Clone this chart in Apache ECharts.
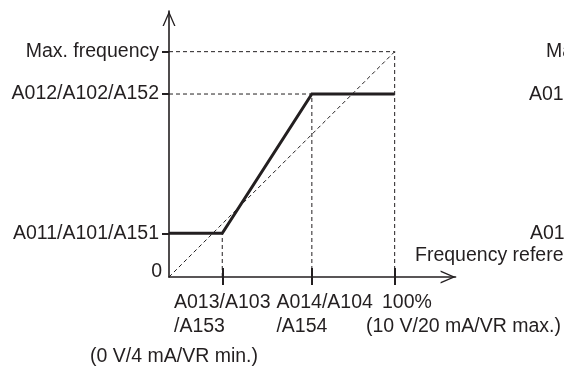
<!DOCTYPE html>
<html><head><meta charset="utf-8">
<script src="https://cdn.jsdelivr.net/npm/echarts@6/dist/echarts.min.js"></script>
<style>html,body{margin:0;padding:0;background:#fff}#c{width:564px;height:367px}</style>
</head><body><div id="c"></div>
<script>
// Frequency reference input (% of range) vs. output frequency (% of max frequency)
const inputPoints  = [0, 23.6, 63.3, 100];
const outputPoints = [19.4, 19.4, 81.2, 81.2];
const yTickValues  = [19.4, 81.2, 100];
const yTickLabels  = ['A011/A101/A151', 'A012/A102/A152', 'Max. frequency'];
const xTickValues  = [23.6, 63.3, 100];
const xTickLine1   = ['A013/A103', 'A014/A104', '100%'];
const xTickLine2   = ['/A153', '/A154', '(10 V/20 mA/VR max.)'];
const xZeroLabel   = '(0 V/4 mA/VR min.)';
const yZeroLabel   = '0';
const axisExtent   = [127, 118];
const sideTexts    = ['Max. frequency', 'A012/A102/A152', 'A011/A101/A151', 'Frequency reference'];

const INK = '#231f20';
const FONT = 'Liberation Sans, Arial, sans-serif';
const FS = 19.5;
const arrowPath = 'path://M65,0 L130,150 L116,150 L65,32 L14,150 L0,150 Z';

const pMin = inputPoints[1], pMax = inputPoints[2], pFull = inputPoints[3];
const fMin = outputPoints[0], fMax = outputPoints[2], fTop = yTickValues[2];
const guides = [
  [[0, fTop], [pFull, fTop]],
  [[0, fMax], [pMax, fMax]],
  [[pFull, 0], [pFull, fTop]],
  [[pMax, 0], [pMax, fMax]],
  [[pMin, 0], [pMin, fMin]],
  [[0, 0], [pFull, fTop]]
];

const txt = (extra) => Object.assign({fontSize: FS, fontFamily: FONT, color: INK}, extra || {});

const series = guides.map(g => ({
  type: 'line', data: g, symbol: 'none', clip: false, silent: true,
  lineStyle: {color: INK, width: 1, type: [4, 3]}, z: 2
}));
series.push({
  type: 'line', data: inputPoints.map((x, i) => [x, outputPoints[i]]),
  symbol: 'none', clip: false, silent: true,
  lineStyle: {color: INK, width: 3, join: 'miter'}, z: 5
});

const sidePos = [[546, 52], [529, 95], [530, 234], [415, 256]];
const graphic = sideTexts.map((t, i) => ({
  type: 'text', x: sidePos[i][0], y: sidePos[i][1], silent: true,
  style: {text: t, fill: INK, font: FS + 'px ' + FONT, align: 'left', verticalAlign: 'middle',
          textAlign: 'left', textVerticalAlign: 'middle'}
}));

// One bottom axis per x label so that ECharts never drops a label as "overlapping".
const xRich = {
  a: txt({align: 'left', lineHeight: 24}),
  b: txt({align: 'left', lineHeight: 24, padding: [0, 0, 0, 25.6]}),
  p: txt({align: 'left', lineHeight: 24, padding: [0, 0, 0, 153.6]}),
  q: txt({align: 'left', lineHeight: 24, padding: [0, 0, 0, 137.6]}),
  z: txt({padding: [56, 0, 0, 10]})
};
function xLabelText(v) {
  if (v === 0) return '{z|' + xZeroLabel + '}';
  const i = xTickValues.indexOf(v);
  const k = ['a', 'b', 'p'][i], k2 = ['a', 'b', 'q'][i];
  return '{' + k + '|' + xTickLine1[i] + '}\n{' + k2 + '|' + xTickLine2[i] + '}';
}
function bottomAxis(labelValue, extra) {
  return Object.assign({
    type: 'value', min: 0, max: axisExtent[0], position: 'bottom',
    splitLine: {show: false}, axisLine: {show: false}, axisTick: {show: false},
    axisLabel: {
      show: true, customValues: [labelValue], margin: 13.5,
      showMinLabel: true, showMaxLabel: true, hideOverlap: false,
      fontSize: FS, fontFamily: FONT, color: INK,
      formatter: xLabelText, rich: xRich
    }
  }, extra || {});
}

const xAxes = [
  bottomAxis(xTickValues[0], {
    axisLine: {show: true, onZero: false, lineStyle: {color: INK, width: 1.6},
      symbol: ['none', arrowPath], symbolSize: [13, 15], symbolOffset: [0, -7.5]},
    axisTick: {show: true, customValues: xTickValues, length: 8, lineStyle: {color: INK, width: 2}}
  }),
  bottomAxis(0, {
    axisTick: {show: true, inside: true, customValues: xTickValues, length: 9, lineStyle: {color: INK, width: 2}}
  }),
  bottomAxis(xTickValues[1]),
  bottomAxis(xTickValues[2])
];

const chart = echarts.init(document.getElementById('c'), null, {renderer: 'canvas'});
chart.setOption({
  animation: false,
  backgroundColor: '#fff',
  grid: {left: 169, top: 11.1, width: 288, height: 265.9, containLabel: false},
  xAxis: xAxes,
  yAxis: {
    type: 'value', min: 0, max: axisExtent[1], position: 'left',
    splitLine: {show: false},
    axisLine: {show: true, onZero: false, lineStyle: {color: INK, width: 1.6},
      symbol: ['none', arrowPath], symbolSize: [13, 15], symbolOffset: [0, -7.5]},
    axisTick: {show: true, customValues: yTickValues, length: 7, lineStyle: {color: INK, width: 2}},
    axisLabel: {
      show: true, customValues: [0].concat(yTickValues), margin: 7,
      showMinLabel: true, showMaxLabel: true, hideOverlap: false,
      fontSize: FS, fontFamily: FONT, color: INK,
      formatter: function (v) {
        if (v === 0) return '{o|' + yZeroLabel + '}';
        return '{t|' + yTickLabels[yTickValues.indexOf(v)] + '}';
      },
      rich: {
        t: txt({padding: [0, 3, 0, 0]}),
        o: txt({padding: [0, 0, 10, 0]})
      }
    }
  },
  graphic: graphic,
  series: series
});
</script></body></html>
